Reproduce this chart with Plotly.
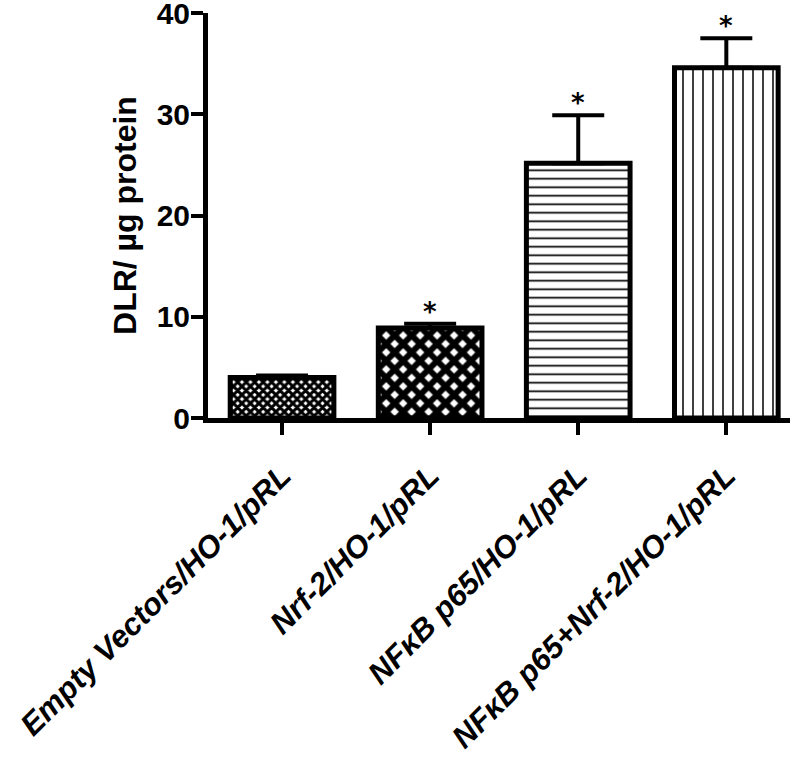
import plotly.graph_objects as go

categories = ["Empty Vectors/HO-1/pRL", "Nrf-2/HO-1/pRL",
              "NFκB p65/HO-1/pRL", "NFκB p65+Nrf-2/HO-1/pRL"]
means = [4.0, 8.9, 25.15, 34.6]
errors = [0.2, 0.4, 4.75, 2.9]
significance = ["", "*", "*", "*"]
y_ticks = [0, 10, 20, 30, 40]

pattern_shapes = ["x", "x", "-", "|"]
pattern_sizes = [6, 12, 8.5, 10]
pattern_solidity = [0.75, 0.75, 0.2, 0.15]

fig = go.Figure()
for i, cat in enumerate(categories):
    fig.add_trace(go.Bar(
        x=[cat], y=[means[i]], width=0.70,
        marker=dict(
            color="white",
            line=dict(color="black", width=5),
            pattern=dict(shape=pattern_shapes[i], size=pattern_sizes[i],
                         solidity=pattern_solidity[i],
                         fgcolor="black", bgcolor="white", fillmode="replace"),
        ),
        error_y=dict(type="data", array=[errors[i]], arrayminus=[0],
                     symmetric=False, color="black", thickness=4, width=26),
        showlegend=False,
    ))

for cat, m, e, s in zip(categories, means, errors, significance):
    if s:
        fig.add_annotation(x=cat, y=m + e, text=s, showarrow=False,
                           yanchor="middle", yshift=12,
                           font=dict(family="DejaVu Sans", size=26, color="black", weight="bold"))

fig.update_layout(
    width=800, height=757,
    margin=dict(l=208, r=10, t=13, b=339),
    plot_bgcolor="white", paper_bgcolor="white",
    bargap=0.3,
    font=dict(family="Liberation Sans, Arial", color="black"),
)
fig.update_xaxes(
    type="category", range=[-0.5, 3.43], automargin=False,
    showline=True, linecolor="black", linewidth=5,
    ticks="outside", ticklen=12, tickwidth=4, tickcolor="black",
    tickangle=-45, ticklabelstandoff=10, ticklabeloverflow="allow",
    tickfont=dict(family="Liberation Sans, Arial", size=31, weight="bold",
                  style="italic", color="black"),
    showgrid=False, zeroline=False,
)
fig.update_yaxes(
    range=[0, 40], tickvals=y_ticks, automargin=False,
    showline=True, linecolor="black", linewidth=5,
    ticks="outside", ticklen=12, tickwidth=4, tickcolor="black",
    ticklabeloverflow="allow", ticklabelstandoff=-5,
    tickfont=dict(family="Liberation Sans, Arial", size=30, weight="bold", color="black"),
    title=dict(text="DLR/ µg protein", standoff=12,
               font=dict(family="Liberation Sans, Arial", size=32, weight="bold", color="black")),
    showgrid=False, zeroline=False,
)

fig.write_html("out.html", config={"displayModeBar": False},
               post_script="document.body.style.margin='0';")
